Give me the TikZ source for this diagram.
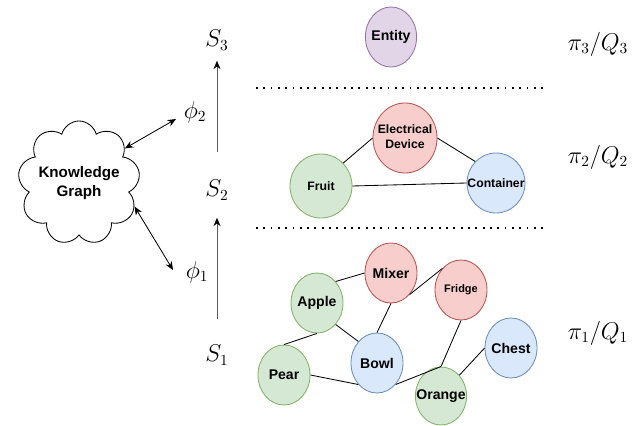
\documentclass[tikz,border=0pt]{standalone}
\usepackage{amsmath}
\usepackage{fontspec}
\usepackage{tikz}
\usetikzlibrary{arrows.meta}
\usetikzlibrary{shapes.geometric, shapes.symbols}

\newfontfamily\boxfont{Liberation Sans}
\newcommand{\blobtext}[1]{\makebox[0pt]{#1}}

\definecolor{greenfill}{HTML}{D5E8D4}
\definecolor{greenline}{HTML}{82B366}
\definecolor{redfill}{HTML}{F8CECC}
\definecolor{redline}{HTML}{B85450}
\definecolor{bluefill}{HTML}{DAE8FC}
\definecolor{blueline}{HTML}{6C8EBF}
\definecolor{purplefill}{HTML}{E1D5E7}
\definecolor{purpleline}{HTML}{9673A6}

\tikzset{
    blob/.style={draw, ellipse, inner sep=0pt, line width=0.6pt,
        minimum width=1.3cm, minimum height=1.5cm,
        font=\boxfont\bfseries\fontsize{10}{11}\selectfont},
    greenblob/.style={blob, fill=greenfill, draw=greenline},
    redblob/.style={blob, fill=redfill, draw=redline},
    blueblob/.style={blob, fill=bluefill, draw=blueline},
    purpleblob/.style={blob, fill=purplefill, draw=purpleline},
    small/.style={font=\boxfont\bfseries\fontsize{8.7}{10.7}\selectfont},
    link/.style={line width=0.6pt},
    flow/.style={line width=0.7pt, draw=black!65, -{Stealth[length=6pt,width=5pt,black]}},
    dbl/.style={line width=0.6pt, {Stealth[length=6pt,width=5pt]}-{Stealth[length=6pt,width=5pt]}},
    level/.style={line width=1.3pt, dash pattern=on 1.3pt off 3.9pt},
    mathlbl/.style={font=\fontsize{16}{19}\selectfont}
}

\begin{document}
\begin{tikzpicture}[x=0.025cm, y=-0.025cm]
    \useasboundingbox (0,0) rectangle (640,426);

    % Levels
    \draw[level] (256,88) -- (548,88);
    \draw[level] (256,228) -- (548,228);

    % Top level
    \node[purpleblob, minimum width=1.28cm] (entity) at (391,37) {\blobtext{Entity}};

    % Middle level
    \node[redblob, small, minimum width=1.6cm, minimum height=1.75cm] (device) at (405,138)
        {\blobtext{\begin{tabular}{@{}c@{}}Electrical\\Device\end{tabular}}};
    \node[greenblob, small, minimum width=1.55cm, minimum height=1.6cm] (fruit) at (321,186) {\blobtext{Fruit}};
    \node[blueblob, small, minimum width=1.45cm] (container) at (496,183) {\blobtext{Container}};

    \draw[link] (fruit.north east) -- (device.west);
    \draw[link] (device.east) -- (container.north west);
    \draw[link] (fruit.east) -- (container.west);

    % Bottom level
    \node[redblob] (mixer) at (391,273) {\blobtext{Mixer}};
    \node[redblob, font=\boxfont\bfseries\fontsize{7.8}{9}\selectfont] (fridge) at (461,290) {\blobtext{Fridge}};
    \node[greenblob] (apple) at (317,303) {\blobtext{Apple}};
    \node[greenblob] (pear) at (284,375) {\blobtext{Pear}};
    \node[blueblob] (bowl) at (377,363) {\blobtext{Bowl}};
    \node[greenblob, minimum width=1.28cm, minimum height=1.45cm] (orange) at (441,396) {\blobtext{Orange}};
    \node[blueblob] (chest) at (511,348) {\blobtext{Chest}};

    \draw[link] (apple.north east) -- (mixer.west);
    \draw[link] (apple.south east) -- (bowl.north west);
    \draw[link] (apple.south) -- (pear.north);
    \draw[link] (mixer.south) -- (bowl.north);
    \draw[link] (mixer.south east) -- (fridge.north west);
    \draw[link] (fridge.south) -- (orange.north);
    \draw[link] (pear.east) -- (bowl.south west);
    \draw[link] (bowl.south east) -- (orange.north);
    \draw[link] (orange.north east) -- (chest.west);

    % States
    \node[mathlbl] (s3) at (217,40) {$S_3$};
    \node[mathlbl] (s2) at (217,190) {$S_2$};
    \node[mathlbl] (s1) at (217,355) {$S_1$};
    \node[mathlbl] (phi2) at (195,112) {$\phi_2$};
    \node[mathlbl] (phi1) at (197,272) {$\phi_1$};

    \draw[flow, shorten <=15pt, shorten >=9pt] (s1) -- (s2);
    \draw[flow, shorten <=16pt, shorten >=4pt] (s2) -- (s3);

    % Policies
    \node[mathlbl] (pq3) at (598,44) {$\pi_3/Q_3$};
    \node[mathlbl] (pq2) at (598,157) {$\pi_2/Q_2$};
    \node[mathlbl] (pq1) at (598,333) {$\pi_1/Q_1$};

    % Knowledge graph
    \node[cloud, draw, cloud puffs=9, aspect=1, line width=0.6pt, inner sep=0pt,
        minimum width=3.05cm, minimum height=3.1cm,
        font=\boxfont\bfseries\fontsize{10.8}{14}\selectfont] (kg) at (79,183)
        {\blobtext{\begin{tabular}{@{}c@{}}Knowledge\\Graph\end{tabular}}};
    \coordinate (kgup) at (176,119);
    \coordinate (kglow) at (173,270);

    \draw[dbl] (kg.37) -- (kgup);
    \draw[dbl] (kg.-23) -- (kglow);
\end{tikzpicture}
\end{document}
